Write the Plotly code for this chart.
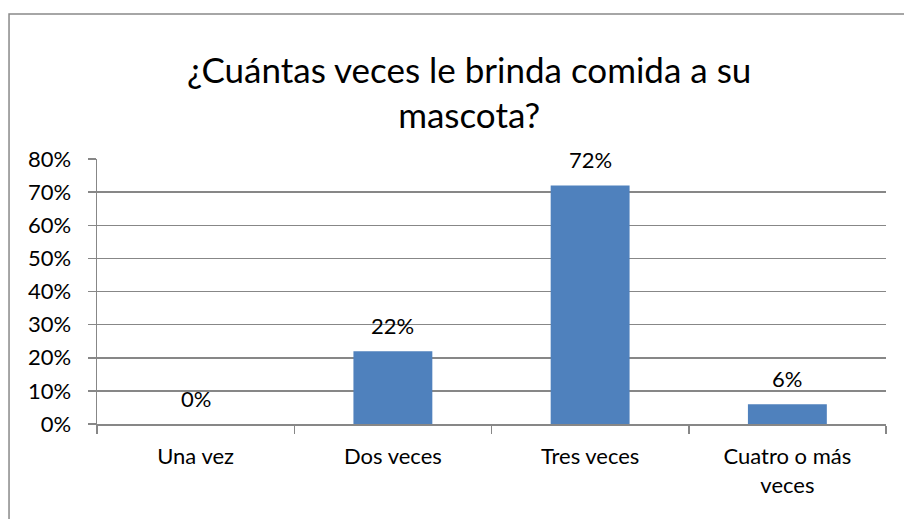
import plotly.graph_objects as go

categories = ["Una vez", "Dos veces", "Tres veces", "Cuatro o más<br>veces"]
values = [0.0, 0.22, 0.72, 0.06]
labels = ["0%", "22%", "72%", "6%"]
y_ticks = [0, 0.1, 0.2, 0.3, 0.4, 0.5, 0.6, 0.7, 0.8]
y_tick_text = ["0%", "10%", "20%", "30%", "40%", "50%", "60%", "70%", "80%"]

FONT = "Lato"
GRID = "#878787"
FS = 22

fig = go.Figure()
fig.add_trace(go.Bar(
    x=categories, y=values, width=0.4,
    marker=dict(color="#4F81BD", line=dict(width=0)),
    hoverinfo="skip",
))

for c, v, t in zip(categories, values, labels):
    fig.add_annotation(x=c, y=v, text=t, showarrow=False, yanchor="middle",
                       yshift=26, font=dict(family=FONT, size=FS, color="#000"))

# chart border (right and bottom edges fall outside the visible page)
fig.add_shape(type="rect", xref="paper", yref="paper",
              x0=-0.1115, x1=1.3, y0=-0.8, y1=1.547,
              line=dict(color="#898989", width=1.5), fillcolor="rgba(0,0,0,0)", layer="below")

fig.update_layout(
    width=904, height=519,
    margin=dict(l=97, r=18, t=159, b=95),
    paper_bgcolor="white", plot_bgcolor="white",
    showlegend=False,
    bargap=0.6,
    title=dict(text="¿Cuántas veces le brinda comida a su<br>mascota?",
               x=0.519, xanchor="center", xref="container",
               y=0.841, yanchor="middle", yref="container",
               font=dict(family=FONT, size=35, color="#000")),
    font=dict(family=FONT, size=FS, color="#000"),
)
fig.update_xaxes(
    automargin=False,
    showline=True, linecolor=GRID, linewidth=1.5,
    ticks="outside", tickson="boundaries", ticklen=8, tickcolor=GRID, tickwidth=1.5,
    ticklabelstandoff=12,
    tickfont=dict(family=FONT, size=FS, color="#000"), showgrid=False,
)
fig.update_yaxes(
    automargin=False,
    range=[0, 0.8], tickvals=y_ticks, ticktext=y_tick_text,
    showline=True, linecolor=GRID, linewidth=1.5,
    ticks="outside", ticklen=8, tickcolor=GRID, tickwidth=1.5,
    ticklabelstandoff=12,
    showgrid=True, gridcolor=GRID, gridwidth=1.5, zeroline=False,
    tickfont=dict(family=FONT, size=FS, color="#000"),
)

fig.write_html("out.html",
               config={"displayModeBar": False, "staticPlot": True},
               post_script="document.body.style.margin='0';document.body.style.overflow='hidden';")
